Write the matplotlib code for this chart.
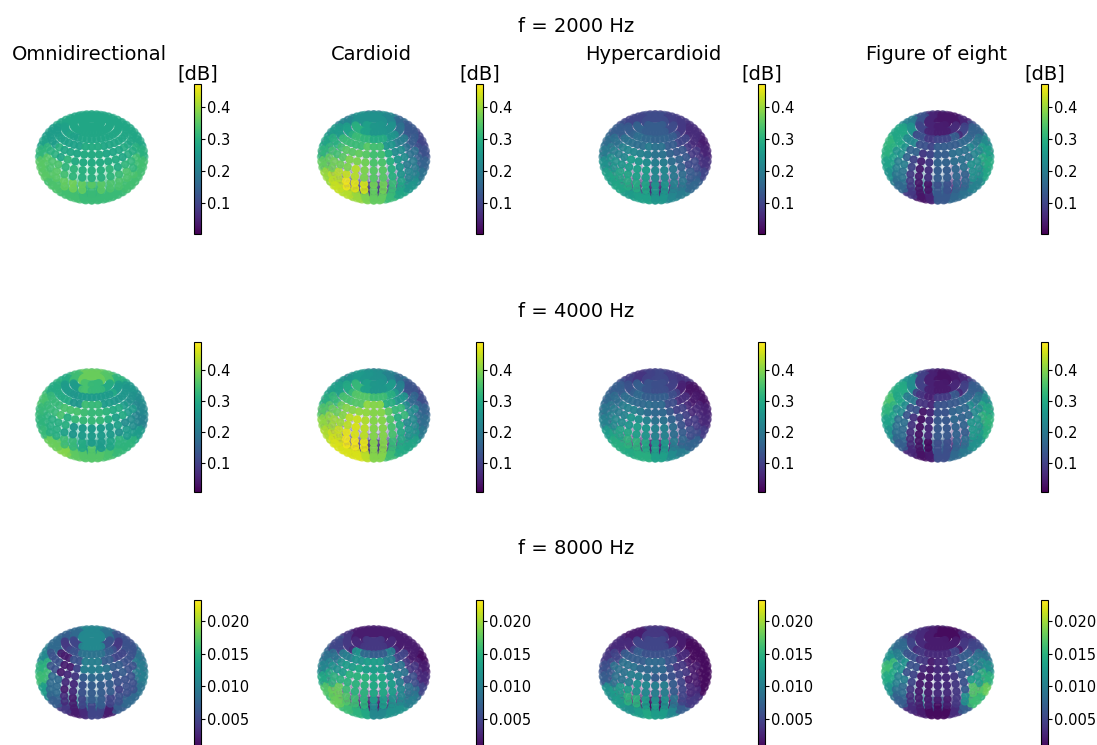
import numpy as np
import matplotlib
matplotlib.use("Agg")
import matplotlib.pyplot as plt
from matplotlib import cm
from matplotlib.colors import Normalize
from mpl_toolkits.mplot3d import proj3d

W, H = 1097, 745

frequencies = [2000, 4000, 8000]
patterns = ["Omnidirectional", "Cardioid", "Hypercardioid", "Figure of eight"]
vmins = [0.003, 0.0065, 0.0003]
vmaxs = [0.472, 0.49, 0.0232]
cbar_ticks = [
    [0.1, 0.2, 0.3, 0.4],
    [0.1, 0.2, 0.3, 0.4],
    [0.005, 0.010, 0.015, 0.020],
]
cbar_labels = [
    ["0.1", "0.2", "0.3", "0.4"],
    ["0.1", "0.2", "0.3", "0.4"],
    ["0.005", "0.010", "0.015", "0.020"],
]

# values, rows top to bottom and columns left to right of the visible disc
omni_2000 = [
    [.28, .28, .28, .28, .28, .28, .28, .28, .28, .28],
    [.26, .26, .27, .28, .28, .28, .28, .28, .28, .28],
    [.27, .26, .27, .27, .28, .28, .28, .28, .28, .28],
    [.31, .30, .28, .28, .29, .29, .28, .28, .29, .30],
    [.35, .34, .31, .29, .29, .29, .29, .29, .31, .33],
    [.35, .35, .33, .31, .30, .30, .31, .32, .34, .33],
    [.33, .34, .36, .37, .36, .35, .34, .34, .33, .33],
    [.32, .32, .33, .33, .32, .32, .32, .32, .32, .32],
]
cardioid_2000 = [
    [.22, .22, .22, .24, .24, .24, .22, .16, .13, .13],
    [.25, .26, .27, .30, .27, .25, .24, .18, .13, .10],
    [.28, .30, .32, .32, .31, .29, .25, .20, .14, .10],
    [.31, .33, .35, .36, .35, .33, .29, .23, .18, .12],
    [.36, .37, .38, .38, .37, .34, .30, .25, .20, .15],
    [.40, .42, .43, .42, .38, .35, .30, .25, .22, .18],
    [.40, .43, .46, .45, .44, .37, .32, .28, .25, .22],
    [.38, .40, .42, .40, .38, .36, .32, .28, .26, .24],
]
hyper_2000 = [
    [.13, .12, .10, .10, .11, .11, .09, .08, .07, .07],
    [.15, .14, .14, .15, .14, .14, .11, .08, .06, .05],
    [.17, .18, .18, .17, .16, .15, .14, .10, .06, .04],
    [.20, .21, .22, .21, .20, .18, .15, .13, .08, .05],
    [.24, .25, .26, .25, .23, .20, .17, .15, .11, .07],
    [.27, .28, .28, .27, .26, .22, .19, .17, .14, .10],
    [.26, .28, .29, .29, .28, .25, .21, .19, .16, .14],
    [.24, .25, .26, .27, .27, .25, .22, .20, .18, .16],
]
eight_2000 = [
    [.20, .22, .20, .12, .05, .03, .03, .05, .12, .14],
    [.28, .28, .24, .10, .05, .04, .06, .10, .15, .18],
    [.31, .28, .22, .12, .08, .10, .14, .16, .19, .23],
    [.30, .24, .15, .08, .10, .14, .17, .18, .22, .27],
    [.27, .20, .10, .05, .08, .15, .17, .18, .24, .29],
    [.24, .18, .08, .04, .07, .14, .16, .15, .24, .28],
    [.20, .16, .08, .03, .03, .12, .15, .16, .21, .24],
    [.17, .14, .08, .03, .05, .13, .16, .18, .20, .20],
]
omni_4000 = [
    [.32, .32, .30, .34, .38, .38, .36, .32, .30, .30],
    [.33, .30, .27, .27, .35, .33, .30, .27, .26, .25],
    [.35, .33, .30, .26, .27, .27, .27, .26, .25, .24],
    [.33, .33, .35, .35, .34, .33, .32, .30, .27, .23],
    [.32, .31, .31, .33, .33, .33, .31, .28, .24, .22],
    [.33, .31, .28, .26, .27, .27, .27, .25, .27, .27],
    [.38, .38, .34, .33, .30, .27, .29, .32, .32, .30],
    [.39, .42, .40, .37, .36, .36, .35, .33, .31, .30],
]
cardioid_4000 = [
    [.26, .26, .26, .27, .26, .25, .22, .18, .14, .14],
    [.28, .28, .30, .33, .28, .26, .27, .22, .13, .10],
    [.31, .33, .35, .36, .36, .34, .31, .26, .17, .12],
    [.36, .38, .40, .41, .41, .40, .37, .33, .24, .16],
    [.41, .42, .44, .45, .43, .40, .36, .31, .24, .18],
    [.43, .45, .47, .46, .44, .40, .35, .30, .26, .20],
    [.44, .46, .48, .48, .47, .40, .33, .30, .29, .26],
    [.42, .44, .46, .46, .44, .40, .34, .30, .28, .27],
]
hyper_4000 = [
    [.14, .13, .10, .08, .10, .11, .09, .08, .08, .08],
    [.15, .15, .13, .15, .13, .12, .10, .05, .03, .03],
    [.17, .18, .18, .17, .15, .15, .12, .07, .04, .03],
    [.20, .21, .22, .20, .18, .17, .14, .10, .06, .05],
    [.22, .24, .26, .25, .22, .19, .16, .13, .09, .06],
    [.27, .29, .30, .28, .26, .22, .18, .15, .12, .09],
    [.29, .31, .32, .32, .30, .27, .21, .17, .16, .14],
    [.27, .29, .30, .31, .31, .28, .24, .21, .18, .17],
]
eight_4000 = [
    [.24, .27, .24, .10, .05, .03, .04, .06, .12, .16],
    [.32, .30, .24, .10, .05, .04, .06, .10, .15, .20],
    [.35, .29, .20, .08, .05, .09, .14, .16, .20, .25],
    [.32, .24, .13, .04, .06, .13, .16, .17, .24, .30],
    [.28, .18, .08, .03, .07, .14, .17, .16, .26, .32],
    [.25, .17, .07, .03, .06, .14, .16, .15, .27, .31],
    [.22, .15, .06, .03, .02, .12, .16, .18, .25, .28],
    [.18, .14, .06, .03, .04, .12, .17, .20, .24, .24],
]
omni_8000 = [
    [.008, .008, .007, .008, .011, .011, .009, .006, .006, .006],
    [.010, .008, .004, .005, .011, .011, .006, .004, .006, .008],
    [.011, .006, .002, .006, .009, .009, .007, .005, .006, .009],
    [.015, .006, .002, .005, .010, .010, .009, .007, .006, .010],
    [.016, .008, .003, .004, .007, .008, .008, .006, .006, .010],
    [.013, .008, .002, .003, .006, .007, .007, .005, .006, .009],
    [.011, .007, .003, .002, .005, .007, .005, .006, .008, .008],
    [.008, .007, .004, .002, .003, .005, .002, .007, .008, .008],
]
cardioid_8000 = [
    [.006, .006, .004, .002, .002, .002, .002, .002, .002, .002],
    [.007, .005, .004, .003, .004, .004, .003, .002, .002, .002],
    [.009, .009, .010, .012, .008, .007, .010, .005, .002, .001],
    [.011, .012, .013, .014, .013, .013, .011, .009, .004, .002],
    [.014, .015, .015, .015, .015, .014, .012, .010, .006, .003],
    [.017, .018, .016, .015, .015, .014, .013, .011, .009, .005],
    [.016, .018, .017, .016, .015, .013, .012, .011, .010, .008],
    [.015, .016, .016, .015, .014, .011, .012, .012, .011, .010],
]
hyper_8000 = [
    [.003, .003, .002, .002, .004, .004, .002, .002, .002, .002],
    [.003, .003, .003, .005, .005, .005, .003, .002, .001, .001],
    [.004, .005, .007, .007, .006, .006, .006, .003, .001, .001],
    [.006, .009, .009, .008, .008, .008, .006, .004, .002, .001],
    [.007, .009, .010, .010, .009, .007, .006, .005, .002, .001],
    [.012, .013, .013, .012, .011, .010, .007, .005, .003, .001],
    [.011, .013, .015, .015, .013, .012, .009, .005, .004, .003],
    [.008, .010, .012, .013, .014, .013, .011, .007, .005, .004],
]
eight_8000 = [
    [.007, .006, .004, .003, .002, .001, .001, .003, .003, .003],
    [.009, .008, .005, .003, .002, .002, .002, .004, .005, .006],
    [.012, .010, .006, .004, .003, .003, .005, .007, .009, .009],
    [.016, .012, .006, .003, .002, .003, .005, .007, .010, .012],
    [.014, .010, .005, .002, .002, .003, .004, .006, .013, .015],
    [.012, .008, .004, .002, .002, .003, .004, .007, .017, .018],
    [.009, .007, .003, .002, .002, .002, .004, .012, .016, .015],
    [.007, .006, .003, .002, .001, .001, .003, .007, .008, .008],
]

# far side of each sphere, only seen through the gaps, left to right
back_sides = [
    [[.31, .31, .31, .31, .31], [.08, .08, .08, .08, .08], [.05, .05, .05, .05, .05], [.25, .20, .15, .05, .05]],
    [[.28, .28, .28, .28, .28], [.08, .08, .08, .08, .08], [.05, .05, .05, .05, .05], [.25, .20, .15, .05, .05]],
    [[.010, .010, .008, .005, .003], [.002, .002, .002, .002, .002], [.001, .001, .001, .001, .001], [.012, .010, .006, .004, .002]],
]
front_sides = [
    [omni_2000, cardioid_2000, hyper_2000, eight_2000],
    [omni_4000, cardioid_4000, hyper_4000, eight_4000],
    [omni_8000, cardioid_8000, hyper_8000, eight_8000],
]

# layout in pixels of the reference
sphere_x = [89.5, 371.5, 653, 935.5]
sphere_y = [159, 417, 674]
name_x = [89, 371, 653, 937]
cbar_x = [194, 476, 758, 1041]
cbar_top = [84, 342, 600]
title_y = [27, 311, 549]
AX_SIZE = 164


def sphere_points():
    lat = np.radians(np.arange(-80, 81, 10))
    lon = np.radians(np.arange(0, 360, 10))
    lon, lat = np.meshgrid(lon, lat)
    x = np.cos(lat) * np.cos(lon)
    y = np.cos(lat) * np.sin(lon)
    z = np.sin(lat)
    x = np.append(x.ravel(), [0, 0])
    y = np.append(y.ravel(), [0, 0])
    z = np.append(z.ravel(), [1, -1])
    return x, y, z


def colour_values(ax, x, y, z, front, back):
    front = np.array(front)
    back = np.array(back)
    sx, sy, _ = proj3d.proj_transform(x, y, z, ax.get_proj())
    u = (sx - sx.min()) / (sx.max() - sx.min())
    v = (sy.max() - sy) / (sy.max() - sy.min())
    col = np.minimum((u * front.shape[1]).astype(int), front.shape[1] - 1)
    row = np.minimum((v * front.shape[0]).astype(int), front.shape[0] - 1)
    values = front[row, col]
    # camera direction for the default view
    el, az = np.radians(ax.elev), np.radians(ax.azim)
    depth = x * np.cos(el) * np.cos(az) + y * np.cos(el) * np.sin(az) + z * np.sin(el)
    far = depth < -0.15
    col_back = np.minimum((u * back.shape[0]).astype(int), back.shape[0] - 1)
    values[far] = back[col_back[far]]
    # fade with distance from the camera, stronger than depthshade
    alphas = 0.12 + 0.88 * ((depth + 1) / 2) ** 1.2
    return values, alphas


fig = plt.figure(figsize=(W / 100, H / 100), dpi=100)
x, y, z = sphere_points()

for i, freq in enumerate(frequencies):
    norm = Normalize(vmins[i], vmaxs[i])
    mappable = cm.ScalarMappable(norm=norm, cmap="viridis")
    fig.text(576 / W, 1 - title_y[i] / H, f"f = {freq} Hz", fontsize=14, ha="center", va="center")
    for j, name in enumerate(patterns):
        ax = fig.add_axes(
            [
                (sphere_x[j] - AX_SIZE / 2) / W,
                1 - (sphere_y[i] + AX_SIZE / 2) / H,
                AX_SIZE / W,
                AX_SIZE / H,
            ],
            projection="3d",
        )
        ax.patch.set_alpha(0)
        ax.set_xlim(-1, 1)
        ax.set_ylim(-1, 1)
        ax.set_zlim(-1, 1)
        values, alphas = colour_values(ax, x, y, z, front_sides[i][j], back_sides[i][j])
        colours = mappable.to_rgba(values)
        colours[:, 3] = alphas
        ax.scatter(x, y, z, color=colours, s=25, depthshade=False)
        ax.set_axis_off()

        cax = fig.add_axes([cbar_x[j] / W, 1 - (cbar_top[i] + 150) / H, 7 / W, 150 / H])
        cb = fig.colorbar(mappable, cax=cax)
        cb.set_ticks(cbar_ticks[i], labels=cbar_labels[i])
        cb.ax.tick_params(labelsize=10.5, length=3, pad=1)
        if i == 0:
            cax.set_title("[dB]", fontsize=14, pad=3)
            fig.text(name_x[j] / W, 1 - 54 / H, name, fontsize=14, ha="center", va="center")

fig.savefig("out.png", dpi=100)
